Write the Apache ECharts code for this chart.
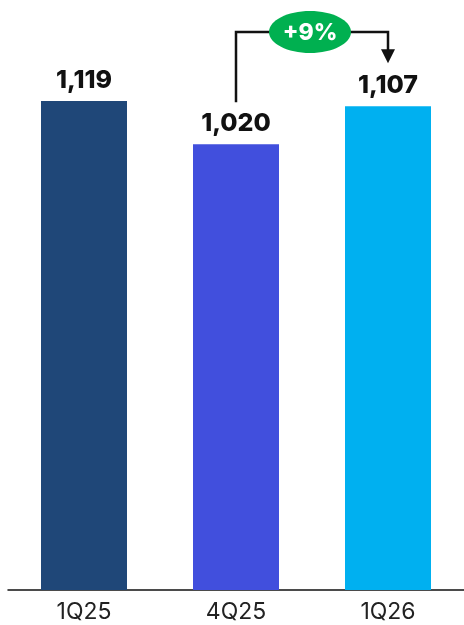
<!DOCTYPE html>
<html><head><meta charset="utf-8">
<script src="https://cdn.jsdelivr.net/npm/echarts@6/dist/echarts.min.js"></script>
<style>html,body{margin:0;padding:0;background:#fff}#c{width:464px;height:625px}</style>
</head><body><div id="c"></div>
<script>
const categories = ['1Q25', '4Q25', '1Q26'];
const values = [1119, 1020, 1107];
const barColors = ['#1F4778', '#414FDD', '#00B0F0'];
const growthLabel = '+9%';

const chart = echarts.init(document.getElementById('c'));
const fmt = v => v.toLocaleString('en-US');
chart.setOption({
  animation: false,
  grid: { left: 8, width: 461, top: 22, bottom: 35 },
  xAxis: {
    type: 'category', data: categories,
    axisLine: { lineStyle: { color: '#111', width: 1.5 } },
    axisTick: { show: false },
    axisLabel: { color: '#222', fontSize: 23, fontFamily: 'Inter', margin: 11 }
  },
  yAxis: { type: 'value', min: 0, max: 1300, show: false, splitLine: { show: false } },
  series: [{
    type: 'bar', barWidth: 86,
    data: values.map((v, i) => ({ value: v, itemStyle: { color: barColors[i] } })),
    label: { show: true, position: 'top', distance: 8, formatter: p => fmt(p.value),
      color: '#111', fontSize: 25, fontWeight: 800, fontFamily: 'Inter' }
  }]
});

const p1 = chart.convertToPixel({ xAxisIndex: 0, yAxisIndex: 0 }, [1, values[1]]);
const p2 = chart.convertToPixel({ xAxisIndex: 0, yAxisIndex: 0 }, [2, values[2]]);
const yTop = 32;
const startY = p1[1] - 42;
const endY = p2[1] - 43;
const midX = (p1[0] + p2[0]) / 2 - 2;
chart.setOption({
  graphic: [
    { type: 'polyline', shape: { points: [[p1[0], startY], [p1[0], yTop], [p2[0], yTop], [p2[0], endY - 12]] },
      style: { stroke: '#111', lineWidth: 2.5, fill: null } },
    { type: 'polygon', shape: { points: [[p2[0] - 7, endY - 14], [p2[0] + 7, endY - 14], [p2[0], endY]] },
      style: { fill: '#111' } },
    { type: 'ellipse', shape: { cx: midX, cy: yTop, rx: 41, ry: 21 }, style: { fill: '#00B050' } },
    { type: 'text', x: midX, y: yTop + 1, style: { text: growthLabel, fill: '#fff', fontSize: 23,
      fontWeight: 800, fontFamily: 'Inter', align: 'center', verticalAlign: 'middle' } }
  ]
});
</script></body></html>
